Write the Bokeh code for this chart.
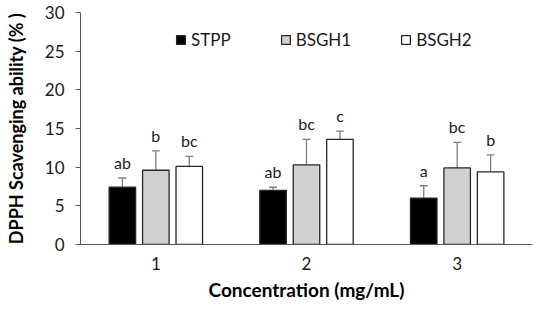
from bokeh.plotting import figure
from bokeh.models import ColumnDataSource, FactorRange, Whisker, Legend, LegendItem, TeeHead, FixedTicker
from bokeh.transform import dodge
from bokeh.core.properties import value
from bokeh.embed import file_html
from bokeh.resources import INLINE

concentrations = ["1", "2", "3"]
series = ["STPP", "BSGH1", "BSGH2"]
stpp = [7.4, 7.0, 6.0]
stpp_err = [1.2, 0.4, 1.6]
bsgh1 = [9.6, 10.3, 9.9]
bsgh1_err = [2.5, 3.3, 3.3]
bsgh2 = [10.1, 13.6, 9.4]
bsgh2_err = [1.3, 1.05, 2.2]
stpp_lbl = ["ab", "ab", "a"]
bsgh1_lbl = ["b", "bc", "bc"]
bsgh2_lbl = ["bc", "c", "b"]

colors = ["#000000", "#d0d0d0", "#ffffff"]
offsets = [-0.222, 0.0, 0.222]
FONT = "Lato"

p = figure(width=534, height=304, x_range=FactorRange(*concentrations), y_range=(0, 30),
           output_backend="svg", toolbar_location=None,
           min_border_left=80, min_border_right=2, min_border_top=12, min_border_bottom=60)
p.outline_line_color = None
p.xgrid.grid_line_color = None
p.ygrid.grid_line_color = None

items = []
for name, vals, errs, lbls, col, off in zip(series, [stpp, bsgh1, bsgh2],
                                             [stpp_err, bsgh1_err, bsgh2_err],
                                             [stpp_lbl, bsgh1_lbl, bsgh2_lbl], colors, offsets):
    src = ColumnDataSource(dict(x=concentrations, top=vals,
                                upper=[v + e for v, e in zip(vals, errs)],
                                lower=[v - e for v, e in zip(vals, errs)],
                                lbl=lbls))
    r = p.vbar(x=dodge("x", off, range=p.x_range), top="top", width=0.176, source=src,
               fill_color=col, line_color="#262626", line_width=1.3)
    items.append(LegendItem(label=name, renderers=[r]))
    w = Whisker(base=dodge("x", off, range=p.x_range), upper="upper", lower="lower", source=src,
                line_color="#7f7f7f", line_width=1.3,
                upper_head=TeeHead(size=8, line_color="#7f7f7f", line_width=1.3),
                lower_head=TeeHead(size=8, line_color="#7f7f7f", line_width=1.3))
    p.add_layout(w)
    p.text(x=dodge("x", off, range=p.x_range), y="upper", text="lbl", source=src,
           text_align="center", text_baseline="bottom", y_offset=-6,
           text_font=value(FONT), text_font_size="16px", text_color="#1a1a1a")

legend = Legend(items=items, orientation="horizontal", location=(95, 194),
                glyph_width=11, glyph_height=11, label_standoff=5, spacing=49,
                padding=0, margin=0, border_line_color=None, background_fill_alpha=0,
                label_text_font=FONT, label_text_font_size="17px", label_text_color="#1a1a1a")
p.add_layout(legend)

p.yaxis.ticker = FixedTicker(ticks=[0, 5, 10, 15, 20, 25, 30])
p.yaxis.major_tick_out = 5
p.yaxis.major_tick_in = 0
p.yaxis.minor_tick_line_color = None
p.yaxis.axis_line_color = "#595959"
p.yaxis.major_tick_line_color = "#595959"
p.xaxis.axis_line_color = "#595959"
p.xaxis.major_tick_line_color = None
p.xaxis.minor_tick_line_color = None
p.xaxis.major_tick_out = 0
p.xaxis.major_label_standoff = 12
p.yaxis.major_label_standoff = 11
for ax in (p.xaxis, p.yaxis):
    ax.major_label_text_font = FONT
    ax.major_label_text_font_size = "17px"
    ax.major_label_text_color = "#1a1a1a"
    ax.axis_label_text_font = FONT
    ax.axis_label_text_font_style = "bold"
    ax.axis_label_text_color = "#000000"
p.xaxis.axis_label_text_font_size = "19px"
p.yaxis.axis_label_text_font_size = "18px"
p.xaxis.axis_label = "Concentration (mg/mL)"
p.yaxis.axis_label = "DPPH Scavenging ability (% )"
p.xaxis.axis_label_standoff = 5
p.yaxis.axis_label_standoff = 15

open("out.html", "w").write(file_html(p, INLINE))
